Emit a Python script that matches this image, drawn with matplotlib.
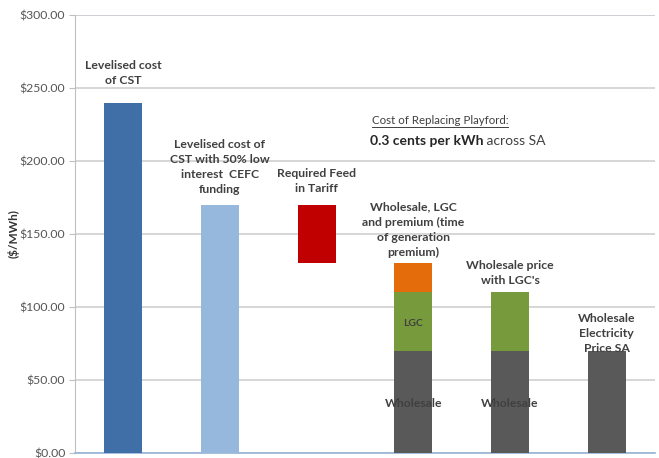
import matplotlib.pyplot as plt
import numpy as np

# cost per MWh for each option ($/MWh)
categories = ['CST', 'CST CEFC', 'Feed in Tariff', 'Wholesale LGC premium',
              'Wholesale LGC', 'Wholesale SA']
cst_levelised = [240, 170, 0, 0, 0, 0]
tariff_base = [0, 0, 130, 0, 0, 0]
tariff_range = [0, 0, 40, 0, 0, 0]
wholesale = [0, 0, 0, 70, 70, 70]
lgc = [0, 0, 0, 40, 40, 0]
premium = [0, 0, 0, 20, 0, 0]
yticks = [0, 50, 100, 150, 200, 250, 300]

plt.rcParams['font.family'] = ['Lato', 'DejaVu Sans']

fig = plt.figure(figsize=(6.59, 4.58), dpi=100)
ax = fig.add_axes([75 / 659, 5 / 458, 580 / 659, 438 / 458])

x = np.arange(len(categories))
w = 0.39
dark = '#404040'

ax.bar(x[:2], cst_levelised[:2], w, color=['#3f6fa6', '#97b8dd'], zorder=3)
ax.bar(x, tariff_range, w, bottom=tariff_base, color='#c00000', zorder=3)
ax.bar(x, wholesale, w, color='#595959', zorder=3)
ax.bar(x, lgc, w, bottom=wholesale, color='#779a3c', zorder=3)
ax.bar(x, premium, w, bottom=np.add(wholesale, lgc), color='#e46c0a', zorder=3)

ax.set_xlim(-0.5, len(categories) - 0.5)
ax.set_ylim(0, 300)
ax.set_yticks(yticks)
ax.set_yticklabels(['${:.2f}'.format(v) for v in yticks], color='#555555', fontsize=8.8)
ax.set_xticks([])
ax.tick_params(axis='y', length=4, color='#bfbfbf', pad=3)
ax.yaxis.grid(True, color='#d0d0d0', linewidth=1.2, zorder=0)
ax.axhline(300, color='#b8cce4', linewidth=1.2, zorder=1)

for s in ['top', 'right']:
    ax.spines[s].set_visible(False)
ax.spines['left'].set_color('#bfbfbf')
ax.spines['bottom'].set_color('#95b3d7')
ax.spines['bottom'].set_linewidth(1.2)

ax.set_ylabel('($/MWh)', fontsize=8.5, fontweight='bold', color='#333333')
ax.yaxis.set_label_coords(-0.095, 0.5)

kw = dict(ha='center', va='center', fontsize=8.8, fontweight='bold', color=dark,
          linespacing=1.45, zorder=4)
ax.text(0, 260, 'Levelised cost\nof CST', **kw)
ax.text(1, 196, 'Levelised cost of\nCST with 50% low\ninterest  CEFC\nfunding', **kw)
ax.text(2, 186, 'Required Feed\nin Tariff', **kw)
ax.text(3, 153, 'Wholesale, LGC\nand premium (time\nof generation\npremium)', **kw)
ax.text(4, 123, "Wholesale price\nwith LGC's", **kw)
ax.text(5, 82, 'Wholesale\nElectricity\nPrice SA', **kw)
ax.text(3, 89, 'LGC', **dict(kw, fontsize=7.5))
ax.text(3, 34, 'Wholesale', **kw)
ax.text(4, 34, 'Wholesale', **kw)

# note on Playford replacement cost
head = ax.text(2.57, 228, 'Cost of Replacing Playford:', fontsize=8.3, color='#404040',
               ha='left', va='center')
bold = ax.text(2.55, 214, '0.3 cents per kWh', fontsize=10, fontweight='bold',
               color='#262626', ha='left', va='center')
fig.canvas.draw()
hb = head.get_window_extent().transformed(ax.transData.inverted())
ax.plot([hb.x0, hb.x1], [223.4, 223.4], color='#404040', linewidth=0.7, zorder=4)
bb = bold.get_window_extent().transformed(ax.transData.inverted())
ax.text(bb.x1, 214, ' across SA', fontsize=10, color='#404040',
        ha='left', va='center')

fig.savefig('out.png', dpi=100)
